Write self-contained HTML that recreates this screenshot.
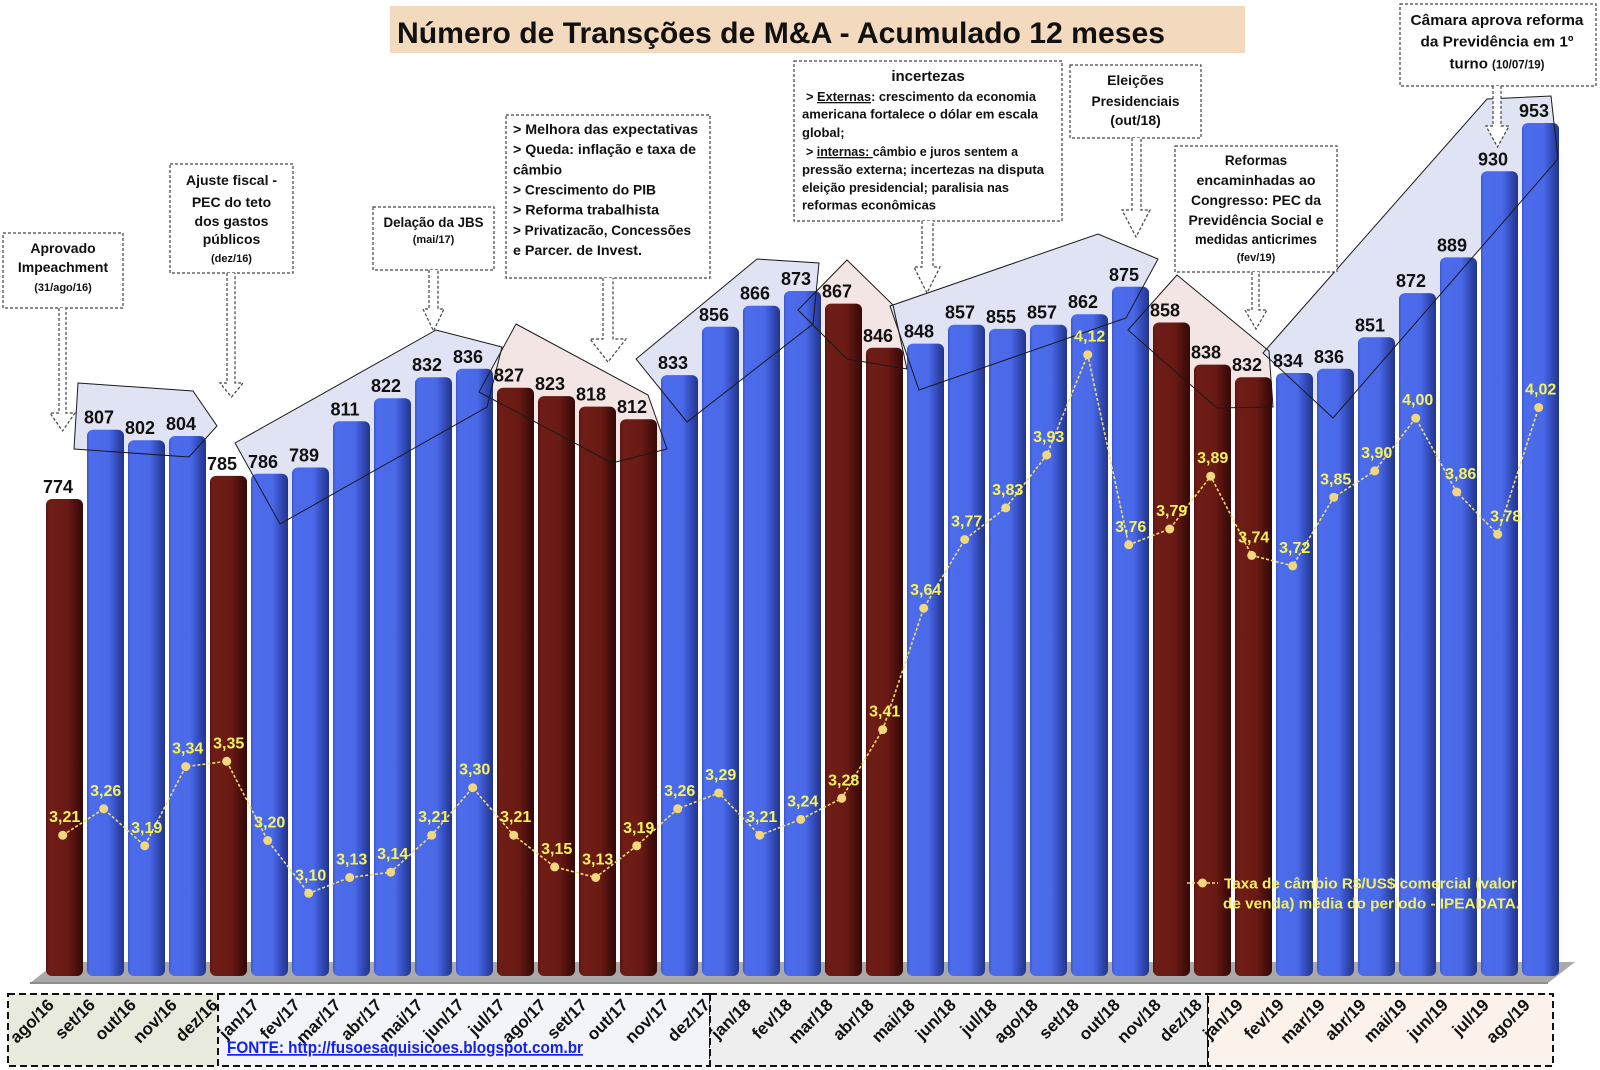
<!DOCTYPE html>
<html><head><meta charset="utf-8"><style>
html,body{margin:0;padding:0;background:#fff;}
svg{display:block;font-family:"Liberation Sans",Arial,sans-serif;}
</style></head><body>
<svg width="1600" height="1070" viewBox="0 0 1600 1070" xmlns="http://www.w3.org/2000/svg">
<defs>
<linearGradient id="gb" x1="0" x2="1" y1="0" y2="0">
<stop offset="0" stop-color="#3b55cc"/><stop offset="0.07" stop-color="#4c6cec"/><stop offset="0.58" stop-color="#4a69e8"/><stop offset="0.72" stop-color="#3b56cd"/><stop offset="0.88" stop-color="#2c42a4"/><stop offset="1" stop-color="#22348a"/>
</linearGradient>
<linearGradient id="gr" x1="0" x2="1" y1="0" y2="0">
<stop offset="0" stop-color="#58130f"/><stop offset="0.07" stop-color="#6e1c16"/><stop offset="0.58" stop-color="#6a1a14"/><stop offset="0.72" stop-color="#571410"/><stop offset="0.88" stop-color="#420d0a"/><stop offset="1" stop-color="#330907"/>
</linearGradient>
</defs>
<rect width="1600" height="1070" fill="#fff"/>

<!-- title -->
<rect x="390" y="6" width="855" height="47" fill="#f3d9bd"/>
<text x="397" y="43" font-size="30" font-weight="bold" fill="#111" textLength="768" lengthAdjust="spacingAndGlyphs">Número de Transções de M&amp;A - Acumulado 12 meses</text>

<!-- polygon fills (behind bars) -->
<g stroke="none">
<polygon points="78,383 193,391 217,426 189,457 74,449" fill="#dfe3f3"/>
<polygon points="235,443 436,330 502,347 487,407 280,524" fill="#dfe3f3"/>
<polygon points="516,324 648,395 667,449 612,463 479,392" fill="#f3e5e3"/>
<polygon points="636,359 757,259 819,263 813,324 687,422" fill="#dfe3f3"/>
<polygon points="847,260 893,305 907,369 847,359 798,310" fill="#f3e5e3"/>
<polygon points="890,306 1098,234 1158,259 1126,318 919,390" fill="#dfe3f3"/>
<polygon points="1177,275 1269,351 1273,407 1217,408 1128,330" fill="#f3e5e3"/>
<polygon points="1263,353 1487,99 1551,96 1558,159 1333,418" fill="#dfe3f3"/>
</g>

<!-- floor -->
<polygon points="30,983 1548,983 1575,962 57,962" fill="#a9a9a9"/>
<rect x="30" y="982" width="1518" height="2" fill="#8e8e8e"/>

<!-- bars -->
<g>
<rect x="46" y="499" width="37" height="477" rx="6" fill="url(#gr)"/>
<rect x="87" y="429.7" width="37" height="546.3" rx="6" fill="url(#gb)"/>
<rect x="128" y="440.2" width="37" height="535.8" rx="6" fill="url(#gb)"/>
<rect x="169" y="436" width="37" height="540" rx="6" fill="url(#gb)"/>
<rect x="210" y="475.9" width="37" height="500.1" rx="6" fill="url(#gr)"/>
<rect x="251" y="473.8" width="37" height="502.2" rx="6" fill="url(#gb)"/>
<rect x="292" y="467.5" width="37" height="508.5" rx="6" fill="url(#gb)"/>
<rect x="333" y="421.3" width="37" height="554.7" rx="6" fill="url(#gb)"/>
<rect x="374" y="398.2" width="37" height="577.8" rx="6" fill="url(#gb)"/>
<rect x="415" y="377.2" width="37" height="598.8" rx="6" fill="url(#gb)"/>
<rect x="456" y="368.8" width="37" height="607.2" rx="6" fill="url(#gb)"/>
<rect x="497" y="387.7" width="37" height="588.3" rx="6" fill="url(#gr)"/>
<rect x="538" y="396.1" width="37" height="579.9" rx="6" fill="url(#gr)"/>
<rect x="579" y="406.6" width="37" height="569.4" rx="6" fill="url(#gr)"/>
<rect x="620" y="419.2" width="37" height="556.8" rx="6" fill="url(#gr)"/>
<rect x="661" y="375.1" width="37" height="600.9" rx="6" fill="url(#gb)"/>
<rect x="702" y="326.8" width="37" height="649.2" rx="6" fill="url(#gb)"/>
<rect x="743" y="305.7" width="37" height="670.3" rx="6" fill="url(#gb)"/>
<rect x="784" y="291" width="37" height="685" rx="6" fill="url(#gb)"/>
<rect x="825" y="303.6" width="37" height="672.4" rx="6" fill="url(#gr)"/>
<rect x="866" y="347.8" width="37" height="628.2" rx="6" fill="url(#gr)"/>
<rect x="907" y="343.6" width="37" height="632.4" rx="6" fill="url(#gb)"/>
<rect x="948" y="324.7" width="37" height="651.3" rx="6" fill="url(#gb)"/>
<rect x="989" y="328.9" width="37" height="647.1" rx="6" fill="url(#gb)"/>
<rect x="1030" y="324.7" width="37" height="651.3" rx="6" fill="url(#gb)"/>
<rect x="1071" y="314.2" width="37" height="661.8" rx="6" fill="url(#gb)"/>
<rect x="1112" y="286.8" width="37" height="689.2" rx="6" fill="url(#gb)"/>
<rect x="1153" y="322.5" width="37" height="653.5" rx="6" fill="url(#gr)"/>
<rect x="1194" y="364.6" width="37" height="611.4" rx="6" fill="url(#gr)"/>
<rect x="1235" y="377.2" width="37" height="598.8" rx="6" fill="url(#gr)"/>
<rect x="1276" y="373" width="37" height="603" rx="6" fill="url(#gb)"/>
<rect x="1317" y="368.8" width="37" height="607.2" rx="6" fill="url(#gb)"/>
<rect x="1358" y="337.3" width="37" height="638.7" rx="6" fill="url(#gb)"/>
<rect x="1399" y="293.1" width="37" height="682.9" rx="6" fill="url(#gb)"/>
<rect x="1440" y="257.4" width="37" height="718.6" rx="6" fill="url(#gb)"/>
<rect x="1481" y="171.3" width="37" height="804.7" rx="6" fill="url(#gb)"/>
<rect x="1522" y="123" width="37" height="853" rx="6" fill="url(#gb)"/>
</g>

<!-- polygon outlines (over bars) -->
<g fill="none" stroke="#1a1a1a" stroke-width="1">
<polygon points="78,383 193,391 217,426 189,457 74,449"/>
<polygon points="235,443 436,330 502,347 487,407 280,524"/>
<polygon points="516,324 648,395 667,449 612,463 479,392"/>
<polygon points="636,359 757,259 819,263 813,324 687,422"/>
<polygon points="847,260 893,305 907,369 847,359 798,310"/>
<polygon points="890,306 1098,234 1158,259 1126,318 919,390"/>
<polygon points="1177,275 1269,351 1273,407 1217,408 1128,330"/>
<polygon points="1263,353 1487,99 1551,96 1558,159 1333,418"/>
</g>

<!-- bar value labels -->
<g font-size="18" font-weight="bold" fill="#111" text-anchor="middle">
<text x="58" y="493">774</text>
<text x="99" y="423.7">807</text>
<text x="140" y="434.2">802</text>
<text x="181" y="430">804</text>
<text x="222" y="469.9">785</text>
<text x="263" y="467.8">786</text>
<text x="304" y="461.5">789</text>
<text x="345" y="415.3">811</text>
<text x="386" y="392.2">822</text>
<text x="427" y="371.2">832</text>
<text x="468" y="362.8">836</text>
<text x="509" y="381.7">827</text>
<text x="550" y="390.1">823</text>
<text x="591" y="400.6">818</text>
<text x="632" y="413.2">812</text>
<text x="673" y="369.1">833</text>
<text x="714" y="320.8">856</text>
<text x="755" y="299.7">866</text>
<text x="796" y="285">873</text>
<text x="837" y="297.6">867</text>
<text x="878" y="341.8">846</text>
<text x="919" y="337.6">848</text>
<text x="960" y="318.7">857</text>
<text x="1001" y="322.9">855</text>
<text x="1042" y="318.7">857</text>
<text x="1083" y="308.2">862</text>
<text x="1124" y="280.8">875</text>
<text x="1165" y="316.5">858</text>
<text x="1206" y="358.6">838</text>
<text x="1247" y="371.2">832</text>
<text x="1288" y="367">834</text>
<text x="1329" y="362.8">836</text>
<text x="1370" y="331.3">851</text>
<text x="1411" y="287.1">872</text>
<text x="1452" y="251.4">889</text>
<text x="1493" y="165.3">930</text>
<text x="1534" y="117">953</text>
</g>

<!-- exchange rate line -->
<polyline fill="none" stroke="#f0de6a" stroke-width="1.6" stroke-dasharray="3,2" points="62.7,835.2 103.7,808.8 144.7,845.8 185.7,766.6 226.7,761.3 267.7,840.5 308.7,893.3 349.7,877.5 390.7,872.2 431.7,835.2 472.7,787.7 513.7,835.2 554.7,866.9 595.7,877.5 636.7,845.8 677.7,808.8 718.7,793 759.7,835.2 800.7,819.4 841.7,798.3 882.7,729.6 923.7,608.2 964.7,539.5 1005.7,507.9 1046.7,455.1 1087.7,354.7 1128.7,544.8 1169.7,529 1210.7,476.2 1251.7,555.4 1292.7,565.9 1333.7,497.3 1374.7,470.9 1415.7,418.1 1456.7,492 1497.7,534.3 1538.7,407.5"/>
<g fill="#f1d87e">
<circle cx="62.7" cy="835.2" r="4.5"/><circle cx="103.7" cy="808.8" r="4.5"/><circle cx="144.7" cy="845.8" r="4.5"/><circle cx="185.7" cy="766.6" r="4.5"/><circle cx="226.7" cy="761.3" r="4.5"/><circle cx="267.7" cy="840.5" r="4.5"/><circle cx="308.7" cy="893.3" r="4.5"/><circle cx="349.7" cy="877.5" r="4.5"/><circle cx="390.7" cy="872.2" r="4.5"/><circle cx="431.7" cy="835.2" r="4.5"/><circle cx="472.7" cy="787.7" r="4.5"/><circle cx="513.7" cy="835.2" r="4.5"/><circle cx="554.7" cy="866.9" r="4.5"/><circle cx="595.7" cy="877.5" r="4.5"/><circle cx="636.7" cy="845.8" r="4.5"/><circle cx="677.7" cy="808.8" r="4.5"/><circle cx="718.7" cy="793" r="4.5"/><circle cx="759.7" cy="835.2" r="4.5"/><circle cx="800.7" cy="819.4" r="4.5"/><circle cx="841.7" cy="798.3" r="4.5"/><circle cx="882.7" cy="729.6" r="4.5"/><circle cx="923.7" cy="608.2" r="4.5"/><circle cx="964.7" cy="539.5" r="4.5"/><circle cx="1005.7" cy="507.9" r="4.5"/><circle cx="1046.7" cy="455.1" r="4.5"/><circle cx="1087.7" cy="354.7" r="4.5"/><circle cx="1128.7" cy="544.8" r="4.5"/><circle cx="1169.7" cy="529" r="4.5"/><circle cx="1210.7" cy="476.2" r="4.5"/><circle cx="1251.7" cy="555.4" r="4.5"/><circle cx="1292.7" cy="565.9" r="4.5"/><circle cx="1333.7" cy="497.3" r="4.5"/><circle cx="1374.7" cy="470.9" r="4.5"/><circle cx="1415.7" cy="418.1" r="4.5"/><circle cx="1456.7" cy="492" r="4.5"/><circle cx="1497.7" cy="534.3" r="4.5"/><circle cx="1538.7" cy="407.5" r="4.5"/>
</g>
<g font-size="16" font-weight="bold" fill="#f6f25e" text-anchor="middle">
<text x="64.7" y="822.2">3,21</text>
<text x="105.7" y="795.8">3,26</text>
<text x="146.7" y="832.8">3,19</text>
<text x="187.7" y="753.6">3,34</text>
<text x="228.7" y="748.3">3,35</text>
<text x="269.7" y="827.5">3,20</text>
<text x="310.7" y="880.3">3,10</text>
<text x="351.7" y="864.5">3,13</text>
<text x="392.7" y="859.2">3,14</text>
<text x="433.7" y="822.2">3,21</text>
<text x="474.7" y="774.7">3,30</text>
<text x="515.7" y="822.2">3,21</text>
<text x="556.7" y="853.9">3,15</text>
<text x="597.7" y="864.5">3,13</text>
<text x="638.7" y="832.8">3,19</text>
<text x="679.7" y="795.8">3,26</text>
<text x="720.7" y="780">3,29</text>
<text x="761.7" y="822.2">3,21</text>
<text x="802.7" y="806.4">3,24</text>
<text x="843.7" y="785.3">3,28</text>
<text x="884.7" y="716.6">3,41</text>
<text x="925.7" y="595.2">3,64</text>
<text x="966.7" y="526.5">3,77</text>
<text x="1007.7" y="494.9">3,83</text>
<text x="1048.7" y="442.1">3,93</text>
<text x="1089.7" y="341.7">4,12</text>
<text x="1130.7" y="531.8">3,76</text>
<text x="1171.7" y="516">3,79</text>
<text x="1212.7" y="463.2">3,89</text>
<text x="1253.7" y="542.4">3,74</text>
<text x="1294.7" y="552.9">3,72</text>
<text x="1335.7" y="484.3">3,85</text>
<text x="1376.7" y="457.9">3,90</text>
<text x="1417.7" y="405.1">4,00</text>
<text x="1460.7" y="479">3,86</text>
<text x="1505.7" y="521.3">3,78</text>
<text x="1540.7" y="394.5">4,02</text>
</g>

<!-- legend -->
<line x1="1187" y1="883" x2="1218" y2="883" stroke="#f0de6a" stroke-width="1.6" stroke-dasharray="3,2"/>
<circle cx="1202.5" cy="883" r="4.5" fill="#f1d87e"/>
<g font-size="15" font-weight="bold" fill="#f4ef5c">
<text x="1224" y="888.5" textLength="293" lengthAdjust="spacingAndGlyphs">Taxa de câmbio R$/US$ comercial (valor</text>
<text x="1223" y="908.5" textLength="297" lengthAdjust="spacingAndGlyphs">de venda) média do período - IPEADATA.</text>
</g>

<!-- annotation boxes -->
<g fill="#fff" stroke="#444" stroke-width="1.2" stroke-dasharray="3,2">
<rect x="3" y="233" width="120" height="75"/>
<rect x="170" y="164" width="123" height="109"/>
<rect x="373" y="207" width="121" height="63"/>
<rect x="506" y="115" width="204" height="163"/>
<rect x="794" y="61" width="268" height="160"/>
<rect x="1070" y="65" width="131" height="73"/>
<rect x="1175" y="146" width="162" height="126"/>
<rect x="1400" y="4" width="196" height="82"/>
<path d="M59,308 V413 H50 L62.5,431 L75,413 H66 V308"/>
<path d="M227,273 V383 H220 L231.5,397 L243,383 H235 V273"/>
<path d="M429,270 V309 H423 L433.5,331 L444,309 H438 V270"/>
<path d="M603,278 V339 H590 L608,362 L626,339 H613 V278"/>
<path d="M922,221 V267 H914 L927,293 L940,267 H933 V221"/>
<path d="M1132,138 V210 H1122 L1136,237 L1150,210 H1141 V138"/>
<path d="M1252,272 V310 H1245 L1256,329 L1267,310 H1259 V272"/>
<path d="M1493,86 V126 H1486 L1497.5,147 L1509,126 H1501 V86"/>
</g>

<g font-weight="bold" fill="#111" text-anchor="middle">
<text x="63" y="253" font-size="14">Aprovado</text>
<text x="63" y="272" font-size="14">Impeachment</text>
<text x="63" y="291" font-size="11">(31/ago/16)</text>

<text x="231.5" y="185" font-size="14">Ajuste fiscal -</text>
<text x="231.5" y="207" font-size="14">PEC do teto</text>
<text x="231.5" y="226" font-size="14">dos gastos</text>
<text x="231.5" y="244" font-size="14">públicos</text>
<text x="231.5" y="262" font-size="11">(dez/16)</text>

<text x="433.5" y="227" font-size="14" textLength="100" lengthAdjust="spacingAndGlyphs">Delação da JBS</text>
<text x="433.5" y="243" font-size="11">(mai/17)</text>

<text x="928" y="81" font-size="15">incertezas</text>

<text x="1135.5" y="85" font-size="14">Eleições</text>
<text x="1135.5" y="106" font-size="14" textLength="88" lengthAdjust="spacingAndGlyphs">Presidenciais</text>
<text x="1135.5" y="125" font-size="14">(out/18)</text>

<text x="1256" y="165" font-size="13.5">Reformas</text>
<text x="1256" y="185" font-size="13.5" textLength="119" lengthAdjust="spacingAndGlyphs">encaminhadas ao</text>
<text x="1256" y="205" font-size="13.5" textLength="130" lengthAdjust="spacingAndGlyphs">Congresso: PEC da</text>
<text x="1256" y="225" font-size="13.5" textLength="135" lengthAdjust="spacingAndGlyphs">Previdência Social e</text>
<text x="1256" y="244" font-size="13.5" textLength="122" lengthAdjust="spacingAndGlyphs">medidas anticrimes</text>
<text x="1256" y="261" font-size="11">(fev/19)</text>

<text x="1497" y="25" font-size="15" textLength="173" lengthAdjust="spacingAndGlyphs">Câmara aprova reforma</text>
<text x="1497" y="46.5" font-size="15" textLength="153" lengthAdjust="spacingAndGlyphs">da Previdência em 1º</text>
<text x="1497" y="68.5" font-size="15">turno <tspan font-size="11.5">(10/07/19)</tspan></text>
</g>

<g font-weight="bold" fill="#111" font-size="14">
<text x="513" y="134" textLength="185" lengthAdjust="spacingAndGlyphs">&gt; Melhora das expectativas</text>
<text x="513" y="154" textLength="183" lengthAdjust="spacingAndGlyphs">&gt; Queda: inflação e taxa de</text>
<text x="513" y="174.5">câmbio</text>
<text x="513" y="194.5" textLength="143" lengthAdjust="spacingAndGlyphs">&gt; Crescimento do PIB</text>
<text x="513" y="214.5" textLength="146" lengthAdjust="spacingAndGlyphs">&gt; Reforma trabalhista</text>
<text x="513" y="235" textLength="178" lengthAdjust="spacingAndGlyphs">&gt; Privatizacão, Concessões</text>
<text x="513" y="255" textLength="129" lengthAdjust="spacingAndGlyphs">e Parcer. de Invest.</text>
</g>

<g font-weight="bold" fill="#111" font-size="13">
<text x="806" y="101" textLength="230" lengthAdjust="spacingAndGlyphs">&gt; <tspan style="text-decoration:underline">Externas</tspan>: crescimento da economia</text>
<text x="802" y="118.5" textLength="236" lengthAdjust="spacingAndGlyphs">americana fortalece o dólar em escala</text>
<text x="802" y="137">global;</text>
<text x="806" y="156" textLength="212" lengthAdjust="spacingAndGlyphs">&gt; <tspan style="text-decoration:underline">internas: </tspan>câmbio e juros sentem a</text>
<text x="802" y="174" textLength="242" lengthAdjust="spacingAndGlyphs">pressão externa; incertezas na disputa</text>
<text x="802" y="192" textLength="207" lengthAdjust="spacingAndGlyphs">eleição presidencial; paralisia nas</text>
<text x="802" y="209.5" textLength="134" lengthAdjust="spacingAndGlyphs">reformas econômicas</text>
</g>

<!-- x-axis label boxes -->
<g stroke="#111" stroke-width="2" stroke-dasharray="7,4">
<rect x="8" y="994" width="210" height="72" fill="#e7eadd"/>
<rect x="218" y="994" width="492" height="72" fill="#f3f4fa"/>
<rect x="710" y="994" width="498" height="72" fill="#eeeeee"/>
<rect x="1208" y="994" width="345" height="72" fill="#faf2eb"/>
</g>

<g font-size="17" font-weight="bold" fill="#111" text-anchor="end">
<text x="55" y="1006" transform="rotate(-45 55 1006)">ago/16</text>
<text x="96" y="1006" transform="rotate(-45 96 1006)">set/16</text>
<text x="137" y="1006" transform="rotate(-45 137 1006)">out/16</text>
<text x="178" y="1006" transform="rotate(-45 178 1006)">nov/16</text>
<text x="219" y="1006" transform="rotate(-45 219 1006)">dez/16</text>
<text x="260" y="1006" transform="rotate(-45 260 1006)">jan/17</text>
<text x="301" y="1006" transform="rotate(-45 301 1006)">fev/17</text>
<text x="342" y="1006" transform="rotate(-45 342 1006)">mar/17</text>
<text x="383" y="1006" transform="rotate(-45 383 1006)">abr/17</text>
<text x="424" y="1006" transform="rotate(-45 424 1006)">mai/17</text>
<text x="465" y="1006" transform="rotate(-45 465 1006)">jun/17</text>
<text x="506" y="1006" transform="rotate(-45 506 1006)">jul/17</text>
<text x="547" y="1006" transform="rotate(-45 547 1006)">ago/17</text>
<text x="588" y="1006" transform="rotate(-45 588 1006)">set/17</text>
<text x="629" y="1006" transform="rotate(-45 629 1006)">out/17</text>
<text x="670" y="1006" transform="rotate(-45 670 1006)">nov/17</text>
<text x="711" y="1006" transform="rotate(-45 711 1006)">dez/17</text>
<text x="752" y="1006" transform="rotate(-45 752 1006)">jan/18</text>
<text x="793" y="1006" transform="rotate(-45 793 1006)">fev/18</text>
<text x="834" y="1006" transform="rotate(-45 834 1006)">mar/18</text>
<text x="875" y="1006" transform="rotate(-45 875 1006)">abr/18</text>
<text x="916" y="1006" transform="rotate(-45 916 1006)">mai/18</text>
<text x="957" y="1006" transform="rotate(-45 957 1006)">jun/18</text>
<text x="998" y="1006" transform="rotate(-45 998 1006)">jul/18</text>
<text x="1039" y="1006" transform="rotate(-45 1039 1006)">ago/18</text>
<text x="1080" y="1006" transform="rotate(-45 1080 1006)">set/18</text>
<text x="1121" y="1006" transform="rotate(-45 1121 1006)">out/18</text>
<text x="1162" y="1006" transform="rotate(-45 1162 1006)">nov/18</text>
<text x="1203" y="1006" transform="rotate(-45 1203 1006)">dez/18</text>
<text x="1244" y="1006" transform="rotate(-45 1244 1006)">jan/19</text>
<text x="1285" y="1006" transform="rotate(-45 1285 1006)">fev/19</text>
<text x="1326" y="1006" transform="rotate(-45 1326 1006)">mar/19</text>
<text x="1367" y="1006" transform="rotate(-45 1367 1006)">abr/19</text>
<text x="1408" y="1006" transform="rotate(-45 1408 1006)">mai/19</text>
<text x="1449" y="1006" transform="rotate(-45 1449 1006)">jun/19</text>
<text x="1490" y="1006" transform="rotate(-45 1490 1006)">jul/19</text>
<text x="1531" y="1006" transform="rotate(-45 1531 1006)">ago/19</text>
</g>

<text x="227" y="1053" font-size="17" font-weight="bold" fill="#1122ee" style="text-decoration:underline" textLength="356" lengthAdjust="spacingAndGlyphs">FONTE: http://fusoesaquisicoes.blogspot.com.br</text>
</svg>
</body></html>
